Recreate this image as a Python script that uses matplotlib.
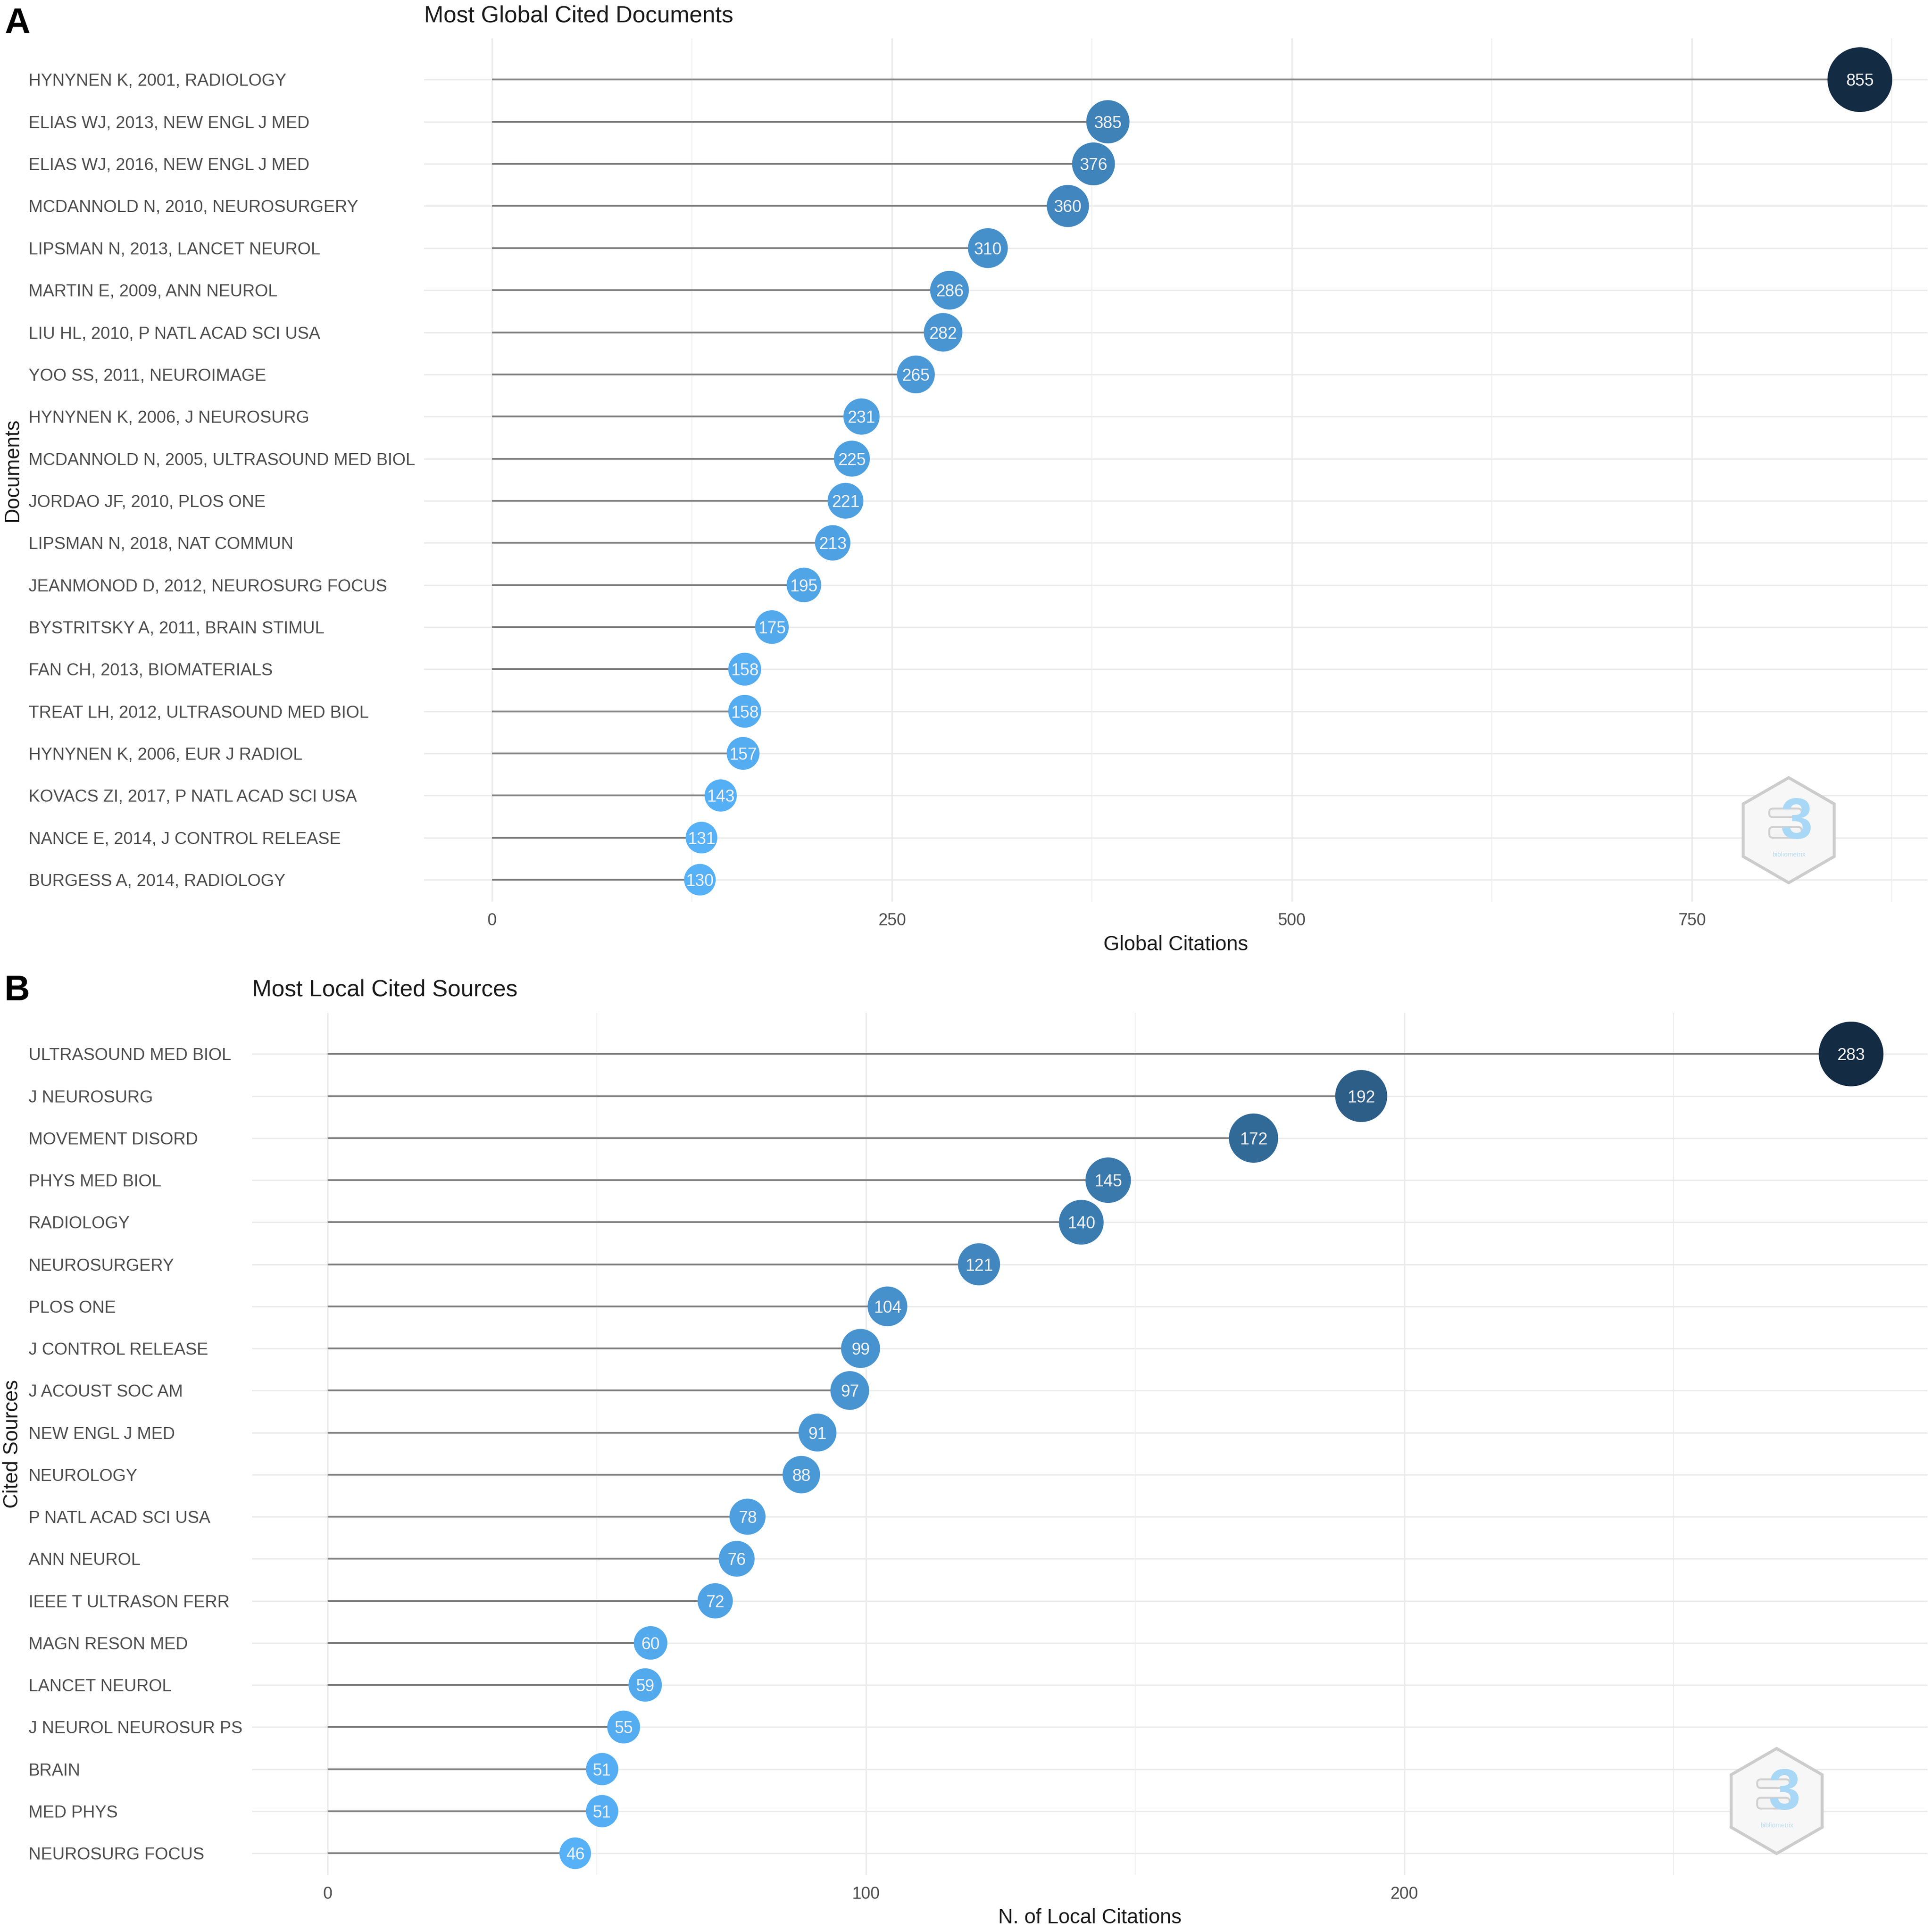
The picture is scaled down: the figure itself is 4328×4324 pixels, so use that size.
import matplotlib
matplotlib.use("Agg")
import matplotlib.pyplot as plt
import numpy as np
from matplotlib import transforms
from matplotlib.colors import LinearSegmentedColormap, Normalize
from matplotlib.patches import RegularPolygon, FancyBboxPatch

plt.rcParams["font.family"] = ["Liberation Sans", "DejaVu Sans"]

# ----- data
doc_labels = [
    "HYNYNEN K, 2001, RADIOLOGY",
    "ELIAS WJ, 2013, NEW ENGL J MED",
    "ELIAS WJ, 2016, NEW ENGL J MED",
    "MCDANNOLD N, 2010, NEUROSURGERY",
    "LIPSMAN N, 2013, LANCET NEUROL",
    "MARTIN E, 2009, ANN NEUROL",
    "LIU HL, 2010, P NATL ACAD SCI USA",
    "YOO SS, 2011, NEUROIMAGE",
    "HYNYNEN K, 2006, J NEUROSURG",
    "MCDANNOLD N, 2005, ULTRASOUND MED BIOL",
    "JORDAO JF, 2010, PLOS ONE",
    "LIPSMAN N, 2018, NAT COMMUN",
    "JEANMONOD D, 2012, NEUROSURG FOCUS",
    "BYSTRITSKY A, 2011, BRAIN STIMUL",
    "FAN CH, 2013, BIOMATERIALS",
    "TREAT LH, 2012, ULTRASOUND MED BIOL",
    "HYNYNEN K, 2006, EUR J RADIOL",
    "KOVACS ZI, 2017, P NATL ACAD SCI USA",
    "NANCE E, 2014, J CONTROL RELEASE",
    "BURGESS A, 2014, RADIOLOGY",
]
doc_citations = [855, 385, 376, 360, 310, 286, 282, 265, 231, 225,
                 221, 213, 195, 175, 158, 158, 157, 143, 131, 130]
doc_ticks = [0, 250, 500, 750]
doc_minor = [125, 375, 625, 875]

src_labels = [
    "ULTRASOUND MED BIOL", "J NEUROSURG", "MOVEMENT DISORD", "PHYS MED BIOL",
    "RADIOLOGY", "NEUROSURGERY", "PLOS ONE", "J CONTROL RELEASE",
    "J ACOUST SOC AM", "NEW ENGL J MED", "NEUROLOGY", "P NATL ACAD SCI USA",
    "ANN NEUROL", "IEEE T ULTRASON FERR", "MAGN RESON MED", "LANCET NEUROL",
    "J NEUROL NEUROSUR PS", "BRAIN", "MED PHYS", "NEUROSURG FOCUS",
]
src_citations = [283, 192, 172, 145, 140, 121, 104, 99, 97, 91,
                 88, 78, 76, 72, 60, 59, 55, 51, 51, 46]
src_ticks = [0, 100, 200]
src_minor = [50, 150, 250]

W, H = 4328, 4324
DPI = 300
fig = plt.figure(figsize=(W / DPI, H / DPI), dpi=DPI)
fig.patch.set_facecolor("white")

cmap = LinearSegmentedColormap.from_list("bx", ["#56B1F7", "#132B43"])
GRID = "#EBEBEB"
TXT = "#4D4D4D"


def fx(px):
    return px / W


def fy(py):
    return 1 - py / H


def lollipop(box, labels, vals, ticks, minor, xlim, title, xlabel, ylabel,
             letter, title_base, letter_base, xlabel_y):
    left, top, right, bottom = box
    ax = fig.add_axes([fx(left), fy(bottom), fx(right) - fx(left), fy(top) - fy(bottom)])
    n = len(vals)
    ys = np.arange(n)[::-1]
    ax.set_xlim(*xlim)
    ax.set_ylim(-0.52, n - 1 + 0.98)
    for s in ax.spines.values():
        s.set_visible(False)
    ax.set_yticks([])
    ax.set_xticks(ticks)
    ax.set_xticklabels([str(t) for t in ticks])
    ax.tick_params(axis="x", length=0, pad=6, labelsize=9, labelcolor=TXT)
    for t in ticks:
        ax.axvline(t, color=GRID, lw=0.75, zorder=0)
    for t in minor:
        ax.axvline(t, color=GRID, lw=0.4, zorder=0)
    for y in ys:
        ax.axhline(y, color=GRID, lw=0.75, zorder=0)

    ax.hlines(ys, 0, vals, color="#808080", lw=0.95, zorder=1)
    norm = Normalize(min(vals), max(vals))
    frac = norm(np.array(vals, dtype=float))
    diam = 17.0 + frac * (34.8 - 17.0)
    ax.scatter(vals, ys, s=diam ** 2, c=cmap(frac), edgecolors="none", zorder=2)
    for v, y in zip(vals, ys):
        ax.text(v, y, str(v), ha="center", va="center_baseline", fontsize=9,
                color="#F2F2F2", zorder=3)

    lab_tr = transforms.blended_transform_factory(fig.transFigure, ax.transData)
    for lab, y in zip(labels, ys):
        ax.text(fx(64), y, lab, transform=lab_tr, ha="left", va="center_baseline",
                fontsize=9.2, color=TXT, clip_on=False)

    fig.text(fx(left), fy(title_base), title, ha="left", va="baseline",
             fontsize=12.5, color="#1a1a1a")
    fig.text(fx(10), fy(letter_base), letter, ha="left", va="baseline",
             fontsize=19, fontweight="bold", color="black")
    fig.text(fx((left + right) / 2), fy(xlabel_y), xlabel, ha="center",
             va="center", fontsize=11, color="#1a1a1a")
    fig.text(fx(28), fy((top + bottom) / 2), ylabel, ha="center", va="center",
             rotation=90, fontsize=11, color="#1a1a1a")
    return ax


def logo(cx, cy):
    size = 250
    lax = fig.add_axes([fx(cx - size / 2), fy(cy + size / 2), size / W, size / H])
    lax.set_xlim(-1.03, 1.03)
    lax.set_ylim(-1.03, 1.03)
    lax.axis("off")
    lax.add_patch(RegularPolygon((0, 0), 6, radius=0.97, orientation=0,
                                 facecolor="#F7F7F7", edgecolor="#CCCCCC", lw=1.6))
    lax.text(0.14, 0.12, "3", ha="center", va="center", fontsize=31,
             fontweight="bold", color="#A8D8F5")
    for y0, h in ((0.25, 0.14), (-0.13, 0.18)):
        lax.add_patch(FancyBboxPatch((-0.35, y0), 0.58, h,
                                     boxstyle="round,pad=0.01,rounding_size=0.07",
                                     facecolor="#F4F4F4", edgecolor="#D0D0D0", lw=1.0))
    lax.text(0.0, -0.45, "bibliometrix", ha="center", va="center", fontsize=3.5,
             color="#BBDDF2")


lollipop((950, 86, 4318, 2020), doc_labels, doc_citations, doc_ticks, doc_minor,
         (-42.4, 897.3), "Most Global Cited Documents", "Global Citations",
         "Documents", "A", 50, 74, 2117)
lollipop((565, 2269, 4318, 4201), src_labels, src_citations, src_ticks, src_minor,
         (-14.0, 297.2), "Most Local Cited Sources", "N. of Local Citations",
         "Cited Sources", "B", 2232, 2241, 4297)

logo(4007, 1860)
logo(3980, 4035)

fig.savefig("out.png", dpi=DPI, facecolor="white")
